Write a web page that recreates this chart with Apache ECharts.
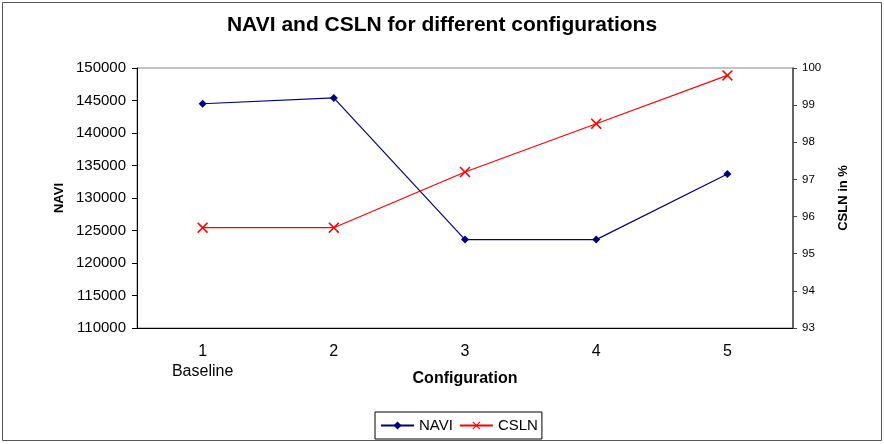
<!DOCTYPE html>
<html>
<head>
<meta charset="utf-8">
<script src="https://cdn.jsdelivr.net/npm/echarts@6/dist/echarts.min.js"></script>
<style>
  body { margin: 0; background: #fff; }
  #chart { width: 884px; height: 444px; }
</style>
</head>
<body>
<div id="chart"></div>
<script>
// values
const configs = ['1\nBaseline', '2', '3', '4', '5']
const naviValues = [144500, 145400, 123600, 123600, 133700]
const cslnValues = [95.7, 95.7, 97.2, 98.5, 99.8]

const font = 'Liberation Sans, Arial, sans-serif'
const crossPath = 'path://M0,1L1,0L5,4L9,0L10,1L6,5L10,9L9,10L5,6L1,10L0,9L4,5Z'

let myChart = echarts.init(document.getElementById('chart'))
myChart.setOption({
  animation: false,
  textStyle: { fontFamily: font, color: '#000' },
  title: {
    text: 'NAVI and CSLN for different configurations',
    left: 'center',
    top: 10,
    textStyle: { fontFamily: font, fontSize: 21, fontWeight: 'bold', color: '#000' }
  },
  graphic: [
    {
      type: 'rect',
      shape: { x: 2.5, y: 2.5, width: 879, height: 438 },
      style: { fill: 'none', stroke: '#555', lineWidth: 1 },
      silent: true
    }
  ],
  legend: {
    top: 412,
    left: 375,
    data: ['NAVI', 'CSLN'],
    borderColor: '#000',
    borderWidth: 1,
    padding: [6, 4, 6, 5],
    itemGap: 6,
    itemWidth: 33,
    itemHeight: 10,
    textStyle: { fontFamily: font, fontSize: 15, color: '#000' }
  },
  grid: {
    left: 137,
    right: 91,
    top: 68,
    bottom: 116,
    show: true,
    borderColor: '#888',
    borderWidth: 1
  },
  xAxis: {
    type: 'category',
    data: configs,
    name: 'Configuration',
    nameLocation: 'middle',
    nameGap: 43,
    nameMoveOverlap: false,
    nameTextStyle: { fontFamily: font, fontSize: 16, fontWeight: 'bold', color: '#000' },
    axisLine: { lineStyle: { color: '#000', width: 1 } },
    axisTick: { length: 5, lineStyle: { color: '#000' } },
    axisLabel: { fontSize: 16, color: '#000', margin: 14, lineHeight: 20 },
    splitLine: { show: false }
  },
  yAxis: [
    {
      type: 'value',
      min: 110000,
      max: 150000,
      interval: 5000,
      name: 'NAVI',
      nameLocation: 'middle',
      nameRotate: 90,
      nameGap: 71,
      nameMoveOverlap: false,
      nameTextStyle: { fontFamily: font, fontSize: 13, fontWeight: 'bold', color: '#000' },
      axisLine: { show: true, lineStyle: { color: '#000', width: 1 } },
      axisTick: { show: true, length: 5, lineStyle: { color: '#000' } },
      axisLabel: { fontSize: 15, color: '#000', margin: 11, formatter: v => String(v) },
      splitLine: { show: false }
    },
    {
      type: 'value',
      position: 'right',
      min: 93,
      max: 100,
      interval: 1,
      name: 'CSLN in %',
      nameLocation: 'middle',
      nameRotate: 90,
      nameGap: 44,
      nameMoveOverlap: false,
      nameTextStyle: { fontFamily: font, fontSize: 13, fontWeight: 'bold', color: '#000' },
      axisLine: { show: true, lineStyle: { color: '#444', width: 1.5 } },
      axisTick: { show: true, length: 4, lineStyle: { color: '#444' } },
      axisLabel: { fontSize: 11.5, color: '#000', margin: 9 },
      splitLine: { show: false }
    }
  ],
  series: [
    {
      name: 'NAVI',
      type: 'line',
      yAxisIndex: 0,
      data: naviValues,
      symbol: 'diamond',
      symbolSize: 8,
      showAllSymbol: true,
      lineStyle: { color: '#000080', width: 1.2 },
      itemStyle: { color: '#000080' }
    },
    {
      name: 'CSLN',
      type: 'line',
      yAxisIndex: 1,
      data: cslnValues,
      symbol: crossPath,
      symbolSize: 11,
      showAllSymbol: true,
      lineStyle: { color: '#ff0000', width: 1.2 },
      itemStyle: { color: '#ff0000' }
    }
  ]
})
</script>
</body>
</html>
